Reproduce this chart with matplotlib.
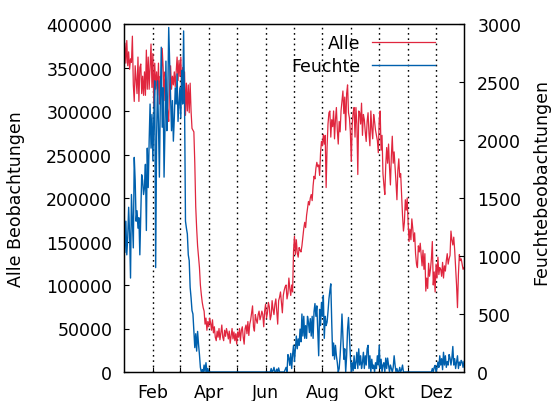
import numpy as np
import matplotlib
matplotlib.use('Agg')
import matplotlib.pyplot as plt

# daily counts for one (leap) year, Alle in thousands
alle_k = [
    # Jan
    370, 378, 355, 381, 352, 368, 348, 360, 356, 386, 330, 311, 352, 336, 320, 362,
    311, 350, 354, 320, 340, 318, 345, 318, 370, 325, 362, 325, 350, 377, 327,
    # Feb
    366, 305, 355, 325, 345, 318, 355, 308, 340, 330, 372, 350, 312, 345, 335,
    310, 298, 288, 330, 352, 325, 340, 330, 345, 328, 345, 362, 335, 358,
    # Mar
    340, 362, 320, 350, 310, 345, 295, 332, 300, 330, 298, 332, 300, 280, 278, 276,
    240, 190, 165, 145, 132, 120, 100, 89, 80, 74, 70, 55, 62, 48, 58,
    # Apr
    52, 62, 56, 48, 60, 45, 52, 40, 36, 47, 40, 50, 37, 45, 54,
    40, 36, 48, 41, 50, 45, 38, 47, 33, 42, 50, 38, 46, 36, 44,
    # May
    32, 46, 40, 50, 36, 48, 52, 40, 32, 50, 54, 44, 58, 42, 55, 60,
    68, 76, 52, 47, 66, 60, 56, 66, 70, 60, 64, 70, 66, 52, 70,
    # Jun
    78, 62, 68, 80, 75, 60, 65, 82, 72, 66, 78, 84, 70, 55, 82,
    86, 92, 80, 68, 88, 94, 98, 100, 84, 90, 108, 96, 88, 100, 92,
    # Jul
    139, 156, 135, 152, 137, 132, 143, 140, 138, 145, 155, 165, 172, 166, 180, 188,
    196, 192, 200, 204, 197, 214, 225, 222, 234, 241, 236, 238, 226, 252, 265,
    # Aug
    260, 273, 262, 272, 212, 258, 285, 298, 300, 270, 290, 282, 300, 268, 290, 304,
    278, 262, 288, 276, 300, 312, 323, 297, 316, 278, 320, 330, 298, 292, 276,
    # Sep
    242, 285, 298, 304, 270, 304, 285, 227, 300, 298, 285, 309, 272, 296, 290,
    276, 265, 288, 298, 274, 260, 300, 280, 268, 296, 288, 278, 272, 266, 252,
    # Oct
    290, 300, 255, 272, 228, 215, 204, 238, 258, 240, 262, 236, 215, 248, 271, 240,
    253, 236, 218, 198, 232, 245, 224, 228, 205, 180, 162, 172, 198, 186, 200,
    # Nov
    172, 150, 164, 152, 176, 165, 150, 160, 136, 124, 120, 145, 138, 148, 135,
    122, 140, 118, 136, 93, 108, 96, 125, 110, 118, 130, 150, 100, 115, 92,
    # Dec
    124, 108, 132, 112, 120, 118, 110, 126, 108, 122, 116, 128, 136, 124, 130, 134,
    162, 152, 146, 155, 140, 120, 100, 74, 112, 135, 128, 130, 124, 118, 120,
]

feuchte = [
    # Jan
    1500, 1030, 1300, 1010, 1160, 1420, 1190, 810, 1530, 1300, 1070, 1850, 1650, 1300, 1390, 1240,
    1330, 1010, 1350, 1700, 1650, 1530, 1590, 1790, 1220, 1930, 1590, 1990, 2310, 1930, 2220,
    # Feb
    1820, 2200, 2510, 900, 2020, 2510, 2140, 1680, 2340, 2800, 2110, 2450, 1680, 2100, 2680,
    2080, 2370, 2970, 2680, 2390, 2080, 2340, 1990, 2190, 2450, 2310, 2570, 2160, 2300,
    # Mar
    2450, 2190, 2600, 2310, 2940, 2310, 1300, 1240, 1190, 1010, 960, 730, 640, 530, 500, 350,
    210, 330, 180, 350, 240, 150, 40, 0, 20, 0, 60, 0, 80, 0, 30,
    # Apr
    0, 0, 0, 0, 0, 0, 0, 0, 0, 0, 0, 0, 0, 0, 0,
    0, 0, 0, 0, 0, 0, 0, 0, 0, 0, 0, 0, 0, 0, 0,
    # May
    0, 0, 0, 0, 0, 0, 0, 0, 0, 0, 0, 0, 0, 0, 0, 0,
    0, 0, 0, 0, 0, 0, 0, 0, 0, 0, 0, 0, 0, 0, 0,
    # Jun
    0, 0, 0, 0, 0, 0, 30, 0, 10, 40, 0, 0, 25, 0, 35,
    0, 0, 0, 0, 0, 0, 20, 40, 0, 150, 120, 57, 160, 30, 150,
    # Jul
    230, 90, 200, 310, 200, 285, 230, 370, 260, 500, 310, 480, 290, 400, 290, 480,
    430, 340, 460, 310, 480, 290, 520, 590, 480, 570, 360, 140, 540, 400, 600,
    # Aug
    480, 660, 290, 480, 400, 430, 520, 630, 700, 760, 430, 140, 250, 110, 230, 140,
    80, 0, 30, 140, 290, 500, 310, 110, 200, 0, 140, 370, 470, 300, 140,
    # Sep
    0, 80, 10, 140, 30, 80, 170, 30, 200, 60, 140, 30, 80, 170, 30,
    140, 60, 200, 230, 30, 140, 0, 110, 30, 60, 0, 80, 30, 140, 60,
    # Oct
    230, 30, 110, 0, 60, 80, 0, 120, 30, 120, 60, 0, 60, 30, 0, 40,
    140, 60, 0, 30, 0, 0, 40, 0, 20, 60, 0, 0, 0, 0, 0,
    # Nov
    0, 0, 0, 0, 0, 0, 0, 0, 0, 0, 0, 0, 0, 0, 0,
    0, 0, 0, 0, 0, 0, 0, 0, 0, 0, 0, 30, 0, 40, 57,
    # Dec
    0, 30, 86, 40, 140, 60, 115, 20, 170, 60, 140, 40, 90, 60, 150, 120,
    60, 120, 220, 60, 115, 30, 86, 140, 30, 86, 57, 100, 86, 40, 90,
]

year = 2020
month_labels = ['Feb', '', 'Apr', '', 'Jun', '', 'Aug', '', 'Okt', '', 'Dez']

days = np.arange(np.datetime64('%d-01-01' % year), np.datetime64('%d-01-01' % (year + 1)))
alle = np.array(alle_k) * 1000
feuchte = np.array(feuchte)
month_starts = np.arange(np.datetime64('%d-02' % year), np.datetime64('%d-01' % (year + 1)),
                         dtype='datetime64[M]').astype('datetime64[D]')

RED = '#e0263e'
BLUE = '#0060ad'

plt.rcParams['font.family'] = 'DejaVu Sans'
plt.rcParams['font.size'] = 12.5

fig = plt.figure(figsize=(5.51, 4.02), dpi=100)
ax = fig.add_axes([124/551, 1 - 373/402, 340/551, 348/402])
ax2 = ax.twinx()

l1, = ax.plot(days, alle, color=RED, lw=0.9, label='Alle')
l2, = ax2.plot(days, feuchte, color=BLUE, lw=1.0, label='Feuchte')

ax.set_xlim(days[0], days[-1])
ax.set_ylim(0, 400000)
ax2.set_ylim(0, 3000)
ax.set_yticks(np.arange(0, 400001, 50000))
ax2.set_yticks(np.arange(0, 3001, 500))

ax.set_xticks(month_starts)
ax.set_xticklabels(month_labels)
ax.grid(axis='x', color='black', lw=1.0, linestyle=(0, (1.2, 2.6)))

ax.tick_params(axis='y', direction='in', length=3.5, pad=8.5, right=False)
ax.tick_params(axis='x', direction='in', length=3.5, pad=8, top=False)
ax2.tick_params(axis='y', direction='in', length=3.5, pad=9.5)

for a in (ax, ax2):
    for s in a.spines.values():
        s.set_linewidth(0.9)

ax.set_ylabel('Alle Beobachtungen')
ax.yaxis.set_label_coords(-0.291, 0.5)
ax2.set_ylabel('Feuchtebeobachtungen')
ax2.yaxis.set_label_coords(1.202, 0.55)

ax2.legend(handles=[l1, l2], loc='upper right', bbox_to_anchor=(0.915, 0.97),
           frameon=False, markerfirst=False, handlelength=3.65, handletextpad=0.67,
           borderpad=0, borderaxespad=0, labelspacing=0.28)

fig.savefig('out.png', dpi=100)
